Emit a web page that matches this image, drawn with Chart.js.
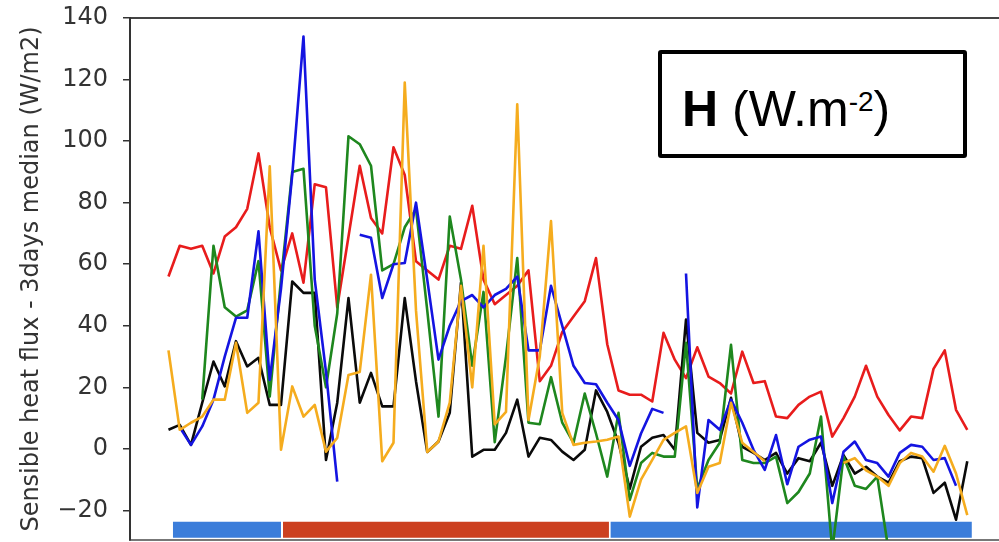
<!DOCTYPE html>
<html>
<head>
<meta charset="utf-8">
<script src="https://cdn.jsdelivr.net/npm/chart.js@4.4.1/dist/chart.umd.min.js"></script>
<style>
html,body{margin:0;padding:0;background:#fff;}
#wrap{position:relative;width:999px;height:542px;overflow:hidden;}
canvas{display:block;}
#hbox{position:absolute;left:658px;top:50px;width:301px;height:100px;border:4px solid #000;border-radius:3px;background:#fff;}
#htext{position:absolute;left:20px;top:30px;font-family:"Liberation Sans",Arial,sans-serif;font-size:50px;line-height:50px;color:#000;white-space:nowrap;}
#htext b{font-weight:bold;}
#htext .sup{font-size:28px;position:relative;top:-15px;}
</style>
</head>
<body>
<div id="wrap">
<canvas id="c" width="999" height="542"></canvas>
<div id="hbox"><div id="htext"><b>H</b> (W.m<span class="sup">-2</span>)</div></div>
</div>
<script>
// ---- data ----
const dayIndex = [0,1,2,3,4,5,6,7,8,9,10,11,12,13,14,15,16,17,18,19,20,21,22,23,24,25,26,27,28,29,30,31,32,33,34,35,36,37,38,39,40,41,42,43,44,45,46,47,48,49,50,51,52,53,54,55,56,57,58,59,60,61,62,63,64,65,66,67,68,69,70,71];

const redSeries = [56,66,65,66,57,69,72,78,96,72,58,70,54,86,85,46,69,92,75,70,98,89,61,58,55,66,65,79,55,47,50,53,58,22,27,38,43,48,62,34,19,17.6,17.6,15.4,37.7,29,23,33,23.5,21.4,18,31.6,21.4,22,10.5,10,14.3,17,18.6,4,10,17,27,17,11,6,10.5,10,26,32,12.7,6.2];

const blueSeries = [null,7,1.3,7.3,16,30,42.6,42.6,70.7,22.4,52,89,134,55,25,-10.6,null,69.6,68.6,49,60,60.4,80,55,29,40,48,50,46,50,52,56,32,32,53,40,27,21.4,21,15,9.4,-5.5,5,13,11.7,null,57,-19,9.4,6.2,16,8.5,-0.3,-6.8,4.5,-11.5,0.7,3,4,-17.6,-0.9,2.4,-3.6,-4.6,-9,-1.3,1.3,0.7,-3.6,-3,-12,null];

const greenSeries = [null,null,null,16,66,46,43,45,61,17,55,90,91,40,20,44,101.6,99,92,58,60,72,78,45,10.5,75.5,55,27,51,2.2,30,62,8.5,8,23.3,8.5,2,18,5,-9,11.7,-16.6,-4.6,-1.3,-2.5,-2.5,34.5,-13,-3.6,2,33.8,-3.6,-4.6,-4.6,-2.5,-17.6,-14,-8,10.5,-33,-2.5,-12,-13,-9,-33,null,null,null,null,null,null,null];

const blackSeries = [6.2,7.8,1.3,15,28.4,20.3,35,26.8,29.6,14.3,14.3,54.4,50.7,50.7,-3.6,15,49,15,24.7,13.8,13.8,49,22,-1,2.4,11.7,54,-2.5,-0.3,-0.3,5.2,16,-2.5,3.6,2.9,-0.9,-3.6,-0.3,19,12,2,-13,0.7,3.6,4.5,-0.3,42,5.2,2,2.9,16.6,0.7,-1.3,-3.6,-1.3,-8,-3,-4,2,-12,-2,-8,-5.8,-9,-11,-4,-2.5,-3,-14.3,-11,-23,-4];

const orangeSeries = [32,6.2,8.5,10.5,16,16,34.5,11.7,15,91.8,-0.3,20.3,10.5,14.3,-0.9,3.6,24,25,56.6,-4,2,119,45,-1,2.4,15,53,20,66,8,12,112,9.4,30,74,11.7,1.3,2,2.4,3,4,-22,-10,-3.6,2.9,5.2,7.3,-14.3,-5.8,-4.6,15,2,-1,-4,null,null,null,null,null,null,-4.6,-3,-7,-9,-12,-4.6,-1.3,-2.5,-7.4,1,-8,-21.5];

// campaign periods along the day axis
const periodStart = [0.4, 10.18, 39.3];
const periodEnd   = [10.0, 39.15, 71.4];

const yTicks = [-20,0,20,40,60,80,100,120,140];

// ---- build ----
const periodColors = ['rgb(59,125,218)','rgb(204,64,32)','rgb(59,125,218)'];
const periodLevel = -26.3;

function pts(series){ return dayIndex.map((d,i)=>({x:d,y:series[i]})); }
function lineDs(series,color,order){
  return {data:pts(series),borderColor:color,backgroundColor:color,borderWidth:2.6,pointRadius:0,
          tension:0,spanGaps:false,borderJoinStyle:'round',borderCapStyle:'butt',order:order,fill:false};
}
const datasets = [
  lineDs(orangeSeries,'rgb(245,172,30)',1),
  lineDs(blueSeries,'rgb(20,20,225)',2),
  lineDs(greenSeries,'rgb(30,135,30)',3),
  lineDs(blackSeries,'rgb(10,10,10)',4),
  lineDs(redSeries,'rgb(232,28,28)',5)
];
periodStart.forEach((s,k)=>{
  datasets.push({data:[{x:s,y:periodLevel},{x:periodEnd[k],y:periodLevel}],borderColor:periodColors[k],
    borderWidth:16,pointRadius:0,borderCapStyle:'butt',order:10,fill:false});
});

const xMin = -3.42, xMax = 73.82;
function noPad(s){ s.paddingTop=0; s.paddingBottom=0; s.paddingLeft=0; s.paddingRight=0; }

new Chart(document.getElementById('c'),{
  type:'line',
  data:{datasets:datasets},
  options:{
    responsive:false,
    animation:false,
    devicePixelRatio:1,
    layout:{padding:{top:18,left:0,right:0,bottom:0}},
    plugins:{legend:{display:false},tooltip:{enabled:false}},
    scales:{
      x:{type:'linear',axis:'x',position:'bottom',min:xMin,max:xMax,
         ticks:{display:false},grid:{display:false,drawTicks:false},
         border:{display:true,color:'#777',width:2},
         afterFit(s){s.height=2;noPad(s);}},
      xTop:{type:'linear',axis:'x',position:'top',min:xMin,max:xMax,
         ticks:{display:false},grid:{display:false,drawTicks:false},
         border:{display:true,color:'#444',width:2},
         afterFit(s){s.height=0;noPad(s);}},
      y:{type:'linear',min:-29.6,max:140,
         afterBuildTicks(s){s.ticks=yTicks.map(v=>({value:v}));},
         ticks:{font:{family:'DejaVu Sans',size:24},color:'#333',padding:15,
                callback:v=>v<0?'\u2212'+Math.abs(v):String(v)},
         grid:{drawOnChartArea:false,drawTicks:true,tickLength:7,color:'#333',lineWidth:1.5},
         border:{display:true,color:'#333',width:2},
         title:{display:true,text:'Sensible heat flux - 3days median (W/m2)',
                font:{family:'DejaVu Sans',size:24},color:'#333',padding:{top:17.6,bottom:0}},
         afterFit(s){s.width=130;noPad(s);}}
    }
  }
});
</script>
</body>
</html>
